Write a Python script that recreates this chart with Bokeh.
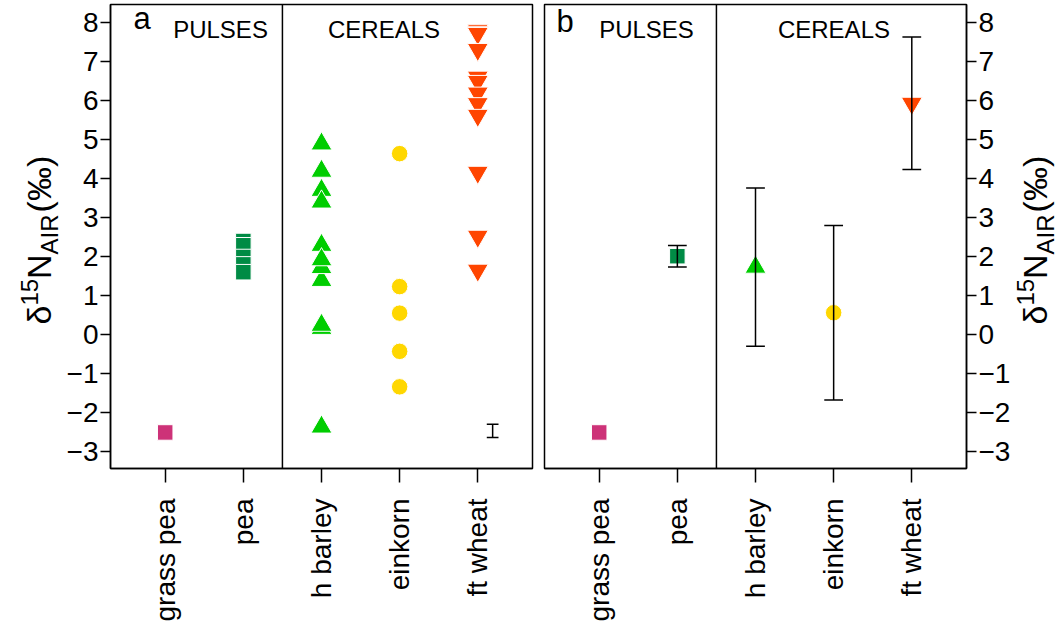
import math
from bokeh.plotting import figure
from bokeh.layouts import row
from bokeh.models import FixedTicker, Span, Label, Range1d
from bokeh.core.properties import value
from bokeh.embed import file_html
from bokeh.resources import INLINE

# ---------------- data ----------------
categories = ["grass pea", "pea", "h barley", "einkorn", "ft wheat"]
grass_pea = [-2.52]
pea = [2.39, 2.28, 1.98, 1.79, 1.59]
h_barley = [4.88, 4.18, 3.69, 3.39, 2.28, 1.38, 1.71, 1.91, 0.19, 0.15, 0.23, -2.38]
einkorn = [4.63, 1.22, 0.54, -0.44, -1.35]
ft_wheat = [7.79, 7.74, 7.71, 7.30, 6.59, 6.48, 6.18, 5.91, 5.61, 4.15, 2.51, 1.64]

summary_centre = [-2.52, 2.00, 1.72, 0.55, 5.92]
summary_sd = [0.0, 0.275, 2.03, 2.24, 1.70]

analytic_x = [5.19]
analytic_y = [-2.48]
analytic_err = [0.17]

y_ticks = [-3, -2, -1, 0, 1, 2, 3, 4, 5, 6, 7, 8]

# ---------------- styles ----------------
FONT = "Liberation Sans"
colors = ["#CD3278", "#008B45", "#00CD00", "#FFD700", "#FF4500"]
markers = ["square", "square", "triangle", "circle", "inverted_triangle"]
sizes = [15.5, 15.5, 21, 16.5, 21]

XR = (0.3, 5.7)
YR = (-3.444, 8.454)
FW, FH = 422, 464
TOP = 4
BOTTOM = 158
PX_PER_Y = FH / (YR[1] - YR[0])

LEFT_W = 63
RIGHT_W = 45
PA_W = (109 - LEFT_W) + FW + 6
PB_W = 6 + FW + 49


def minus(v):
    return str(v).replace("-", "\u2212")


def make_fig(side):
    p = figure(
        frame_width=FW, frame_height=FH,
        x_range=Range1d(*XR), y_range=Range1d(*YR),
        output_backend="svg", toolbar_location=None,
        y_axis_location=side,
        min_border_left=(109 - LEFT_W) if side == "left" else 6,
        min_border_right=6 if side == "left" else 49,
        min_border_top=TOP, min_border_bottom=BOTTOM,
        background_fill_color="white", border_fill_color="white",
    )
    p.xgrid.visible = False
    p.ygrid.visible = False
    p.outline_line_color = "black"
    p.outline_line_width = 1.5
    p.outline_line_alpha = 1.0

    xa = p.xaxis[0]
    xa.ticker = FixedTicker(ticks=list(range(1, len(categories) + 1)))
    xa.major_label_overrides = {i + 1: c for i, c in enumerate(categories)}
    xa.major_label_orientation = math.pi / 2
    xa.major_tick_out = 14
    xa.major_tick_in = 0
    xa.minor_tick_line_color = None
    xa.major_label_standoff = 16
    xa.major_label_text_font = FONT
    xa.major_label_text_font_size = "28px"
    xa.major_label_text_color = "black"
    xa.axis_line_width = 1.5
    xa.major_tick_line_width = 1.5

    ya = p.yaxis[0]
    ya.ticker = FixedTicker(ticks=y_ticks)
    ya.major_label_overrides = {t: minus(t) for t in y_ticks}
    ya.major_tick_out = 10
    ya.major_tick_in = 0
    ya.minor_tick_line_color = None
    ya.major_label_standoff = 2
    ya.major_label_text_font = FONT
    ya.major_label_text_font_size = "28px"
    ya.major_label_text_color = "black"
    ya.axis_line_width = 1.5
    ya.major_tick_line_width = 1.5
    ya.major_label_orientation = "horizontal"

    p.add_layout(Span(location=2.5, dimension="height", line_color="black", line_width=1.5))
    return p


def add_header(p, letter, lx, ly, pulses_x, cereals_x):
    p.add_layout(Label(x=lx, y=ly, text=letter, text_font=FONT, text_font_size="31px",
                       text_align="left", text_baseline="alphabetic", text_color="black"))
    for txt, xx in (("PULSES", pulses_x), ("CEREALS", cereals_x)):
        p.add_layout(Label(x=xx, y=7.81, text=txt, text_font=FONT, text_font_size="24px",
                           text_align="center", text_baseline="alphabetic", text_color="black"))


def label_fig(width, main_anchor):
    """Narrow figure (same vertical frame as the panels) holding the rotated axis title."""
    p = figure(frame_width=width, frame_height=FH,
               x_range=Range1d(0, width), y_range=Range1d(*YR),
               output_backend="svg", toolbar_location=None,
               x_axis_location=None, y_axis_location=None,
               min_border=0, min_border_left=0, min_border_right=0,
               min_border_top=TOP, min_border_bottom=BOTTOM,
               background_fill_color="white", border_fill_color="white")
    p.outline_line_color = None
    p.xgrid.visible = False
    p.ygrid.visible = False
    # (text, font px, anchor shift px, advance px)
    pieces = [("\u03b4", 34, 0, 18.9), ("15", 24, -8.6, 26.7), ("N", 34, 0, 24.5),
              ("AIR", 24, 11.4, 42.0), (" (\u2030)", 34, 0, 66.0)]
    start = 324.0  # page px of the start (bottom) of the title
    for txt, fs, shift, ln in pieces:
        yd = YR[1] - (start - TOP) / PX_PER_Y
        p.text(x=[main_anchor + shift], y=[yd], text=[txt], angle=math.pi / 2,
               text_font=value(FONT), text_font_size=value(f"{fs}px"),
               text_align="left", text_baseline="alphabetic", text_color="black")
        start -= ln
    return p


# ---------------- panel a ----------------
pa = make_fig("left")
raw = [grass_pea, pea, h_barley, einkorn, ft_wheat]
for i, vals in enumerate(raw):
    pa.scatter([i + 1] * len(vals), vals, marker=markers[i], size=sizes[i],
               fill_color=colors[i], line_color="white", line_width=1)
cap_a = 0.075
lo = [y - e for y, e in zip(analytic_y, analytic_err)]
hi = [y + e for y, e in zip(analytic_y, analytic_err)]
pa.segment(analytic_x, lo, analytic_x, hi, line_color="black", line_width=1.5)
for yy in (lo, hi):
    pa.segment([x - cap_a for x in analytic_x], yy, [x + cap_a for x in analytic_x], yy,
               line_color="black", line_width=1.5)
add_header(pa, "a", 0.594, 8.09, 1.708, 3.80)

# ---------------- panel b ----------------
pb = make_fig("right")
for i, (c, s) in enumerate(zip(summary_centre, summary_sd)):
    pb.scatter([i + 1], [c], marker=markers[i], size=sizes[i],
               fill_color=colors[i], line_color="white", line_width=1)
bx = [i + 1 for i, s in enumerate(summary_sd) if s > 0]
bc = [c for c, s in zip(summary_centre, summary_sd) if s > 0]
bs = [s for s in summary_sd if s > 0]
cap_b = 0.12
blo = [c - s for c, s in zip(bc, bs)]
bhi = [c + s for c, s in zip(bc, bs)]
pb.segment(bx, blo, bx, bhi, line_color="black", line_width=1.5)
for yy in (blo, bhi):
    pb.segment([x - cap_b for x in bx], yy, [x + cap_b for x in bx], yy,
               line_color="black", line_width=1.5)
add_header(pb, "b", 0.454, 8.02, 1.605, 4.004)

lab_left = label_fig(LEFT_W, 38)
lab_right = label_fig(RIGHT_W, 1033 - (LEFT_W + PA_W + PB_W))

layout = row(lab_left, pa, pb, lab_right)
open("out.html", "w").write(file_html(layout, INLINE))
